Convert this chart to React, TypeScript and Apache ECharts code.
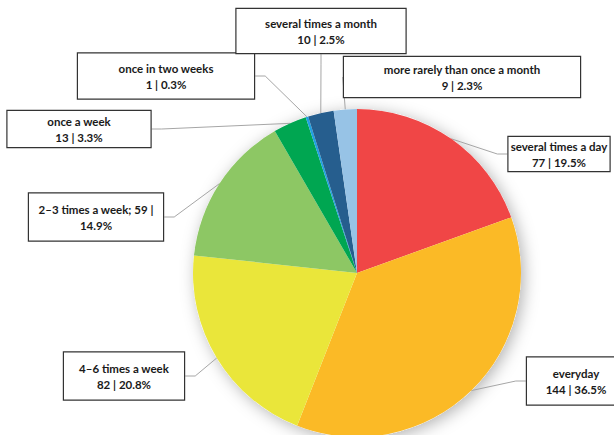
import React, { useEffect, useRef } from "react";
import * as echarts from "echarts";

const categories = [
  "several times a day",
  "everyday",
  "4–6 times a week",
  "2–3 times a week",
  "once a week",
  "once in two weeks",
  "several times a month",
  "more rarely than once a month",
];
const values = [77, 144, 82, 59, 13, 1, 10, 9];
const colors = ["#F04646", "#FBBA26", "#EAE63A", "#8DC764", "#00A651", "#1FA0E2", "#265E8E", "#97C3E6"];

// label box layout: [centerX, centerY, width, height]
const labelBoxes: [number, number, number, number][] = [
  [559, 154, 101, 34],
  [576, 381, 98, 47],
  [124, 376, 120, 47],
  [96, 217, 134, 47],
  [79, 129, 143, 36],
  [166, 76, 176, 45],
  [321, 31, 169, 44],
  [462, 77, 236, 40],
];

export default function App() {
  const ref = useRef<HTMLDivElement>(null);
  useEffect(() => {
    if (!ref.current) return;
    const chart = echarts.init(ref.current, undefined, { renderer: "svg" });
    const lineH = 16;
    const total = values.reduce((a, b) => a + b, 0);
    const pct = (v: number) => ((v / total) * 100).toFixed(1);
    const data = categories.map((name, i) => {
      const [, , w, h] = labelBoxes[i];
      const vpad = Math.max(0, (h - 2 * lineH) / 2);
      return {
        name,
        value: values[i],
        itemStyle: { color: colors[i] },
        label: {
          width: w,
          padding: [vpad, 0, vpad, 0],
        },
      };
    });
    chart.setOption({
      animation: false,
      backgroundColor: "#ffffff",
      series: [
        {
          type: "pie",
          silent: true,
          center: [357, 273],
          radius: 164,
          z: 1,
          label: { show: false },
          labelLine: { show: false },
          data: [{ value: 1, name: "", itemStyle: { color: "#ffffff" } }],
          itemStyle: {
            shadowBlur: 16,
            shadowColor: "rgba(0,0,0,0.3)",
            shadowOffsetX: 3,
            shadowOffsetY: 3,
          },
        },
        {
          type: "pie",
          center: [357, 273],
          radius: 164,
          startAngle: 90,
          clockwise: true,
          z: 2,
          itemStyle: { borderWidth: 0 },
          label: {
            show: true,
            position: "outside",
            fontFamily: "Lato",
            fontWeight: "bold",
            fontSize: 11.5,
            color: "#1a1a1a",
            lineHeight: lineH,
            align: "center",
            backgroundColor: "#ffffff",
            borderColor: "#333333",
            borderWidth: 1.2,
            formatter: (p: any) =>
              p.dataIndex === 3
                ? `${p.name}; ${p.value} |\n${pct(p.value)}%`
                : `${p.name}\n${p.value} | ${pct(p.value)}%`,
          },
          labelLine: {
            show: true,
            length: 10,
            length2: 10,
            lineStyle: { color: "#a6a6a6", width: 1 },
          },
          labelLayout: (params: any) => {
            const b = labelBoxes[params.dataIndex];
            return { x: b[0], y: b[1], align: "center", verticalAlign: "middle" };
          },
          data,
        },
      ],
    });
    return () => chart.dispose();
  }, []);
  return (
    <div
      ref={ref}
      style={{ position: "fixed", left: 0, top: 0, width: 614, height: 435 }}
    />
  );
}
